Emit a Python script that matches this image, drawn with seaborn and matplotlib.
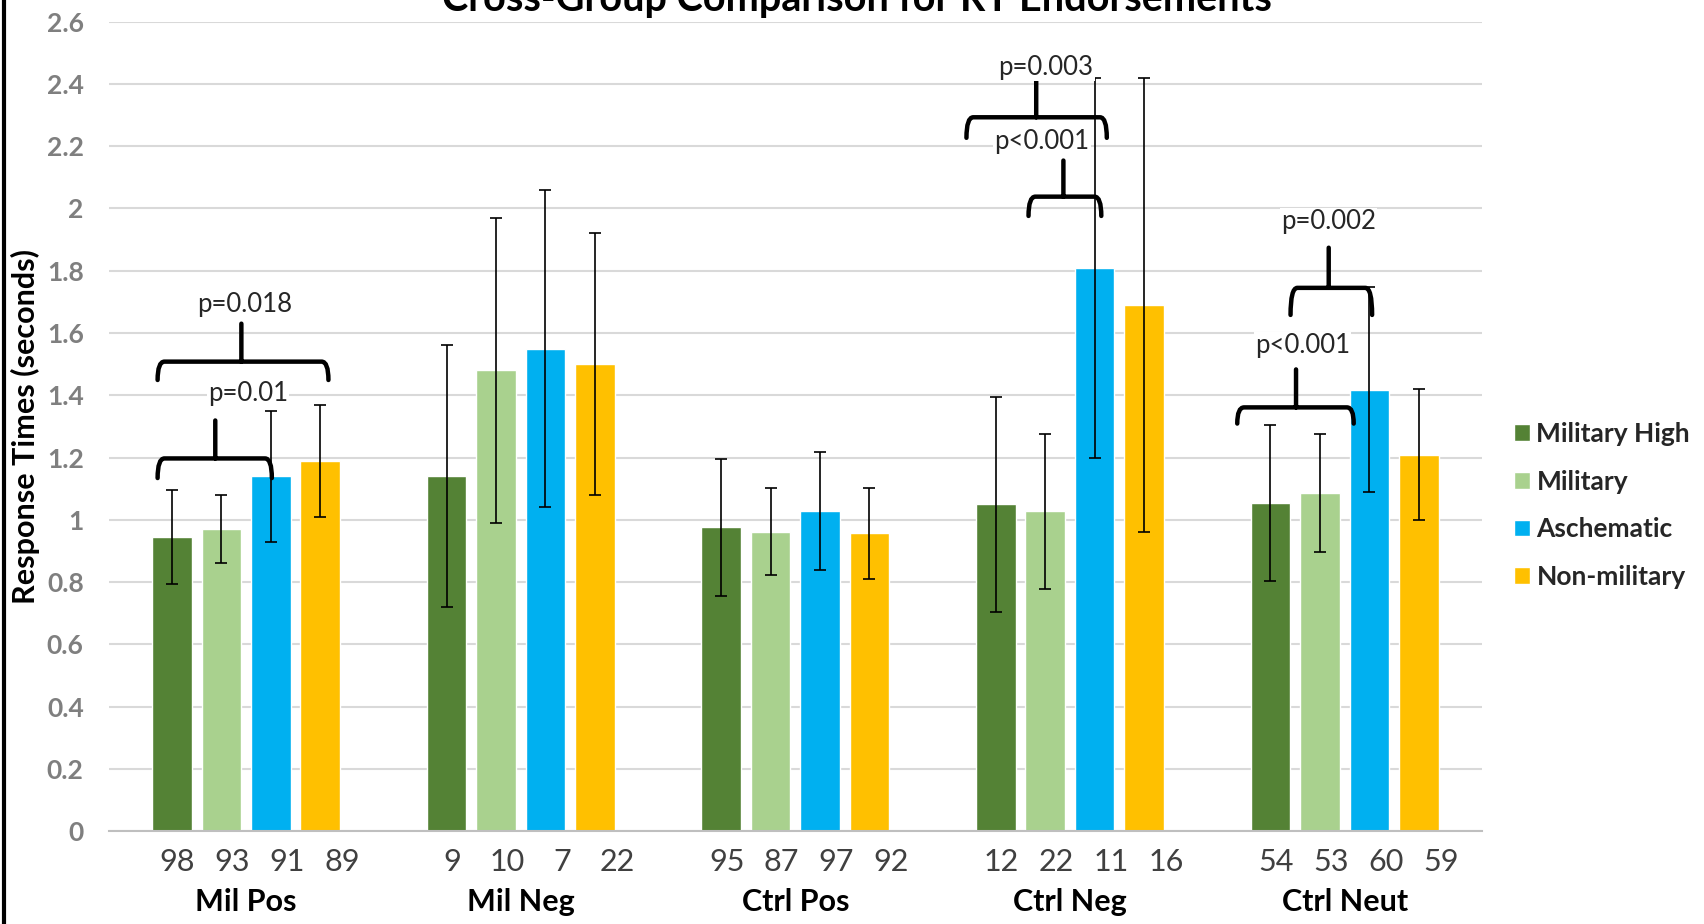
import numpy as np
import pandas as pd
import seaborn as sns
import matplotlib.pyplot as plt
from matplotlib.path import Path
from matplotlib.patches import PathPatch
from matplotlib.lines import Line2D


"""Data"""

Conditions = ["Mil Pos", "Mil Neg", "Ctrl Pos", "Ctrl Neg", "Ctrl Neut"]
Groups = ["Military High", "Military", "Aschematic", "Non-military"]

Mean_Military_High = [0.945, 1.14, 0.976, 1.05, 1.054]
Mean_Military = [0.97, 1.48, 0.961, 1.027, 1.087]
Mean_Aschematic = [1.14, 1.55, 1.028, 1.81, 1.418]
Mean_Non_Military = [1.19, 1.50, 0.956, 1.69, 1.209]

Err_Military_High = [0.15, 0.42, 0.22, 0.345, 0.25]
Err_Military = [0.11, 0.49, 0.14, 0.25, 0.19]
Err_Aschematic = [0.21, 0.51, 0.19, 0.61, 0.33]
Err_Non_Military = [0.18, 0.42, 0.145, 0.73, 0.21]

N_Military_High = [98, 9, 95, 12, 54]
N_Military = [93, 10, 87, 22, 53]
N_Aschematic = [91, 7, 97, 11, 60]
N_Non_Military = [89, 22, 92, 16, 59]

Colors = ["#548235", "#A9D18E", "#00B0F0", "#FFC000"]

# significance braces: condition, left, right, stem (offsets from condition centre), line y, end y, stem top
Brace_Condition = [0, 0, 3, 3, 4, 4]
Brace_Left = [-0.322, -0.322, -0.377, -0.151, -0.197, -0.391]
Brace_Right = [0.30, 0.094, 0.134, 0.114, 0.10, 0.033]
Brace_Stem = [-0.017, -0.112, -0.123, -0.024, -0.058, -0.177]
Brace_Y = [1.508, 1.197, 2.293, 2.038, 1.745, 1.361]
Brace_End = [1.449, 1.134, 2.227, 1.976, 1.658, 1.309]
Brace_Top = [1.63, 1.319, 2.412, 2.154, 1.874, 1.483]
Brace_Label = ["p=0.018", "p=0.01", "p=0.003", "p<0.001", "p=0.002", "p<0.001"]
Label_X = [-0.005, 0.007, -0.087, -0.103, -0.058, -0.153]
Label_Y = [1.69, 1.407, 2.454, 2.216, 1.958, 1.56]


def Draw_Brace(ax, x0, x1, xs, y, y_end, y_top):
    dx = 0.025
    Verts = [(x0, y_end), (x0, y), (x0 + dx, y), (x1 - dx, y), (x1, y), (x1, y_end),
             (xs, y), (xs, y_top)]
    Codes = [Path.MOVETO, Path.CURVE3, Path.CURVE3, Path.LINETO, Path.CURVE3, Path.CURVE3,
             Path.MOVETO, Path.LINETO]
    ax.add_patch(PathPatch(Path(Verts, Codes), facecolor="none", edgecolor="black",
                           lw=3.2, capstyle="round", zorder=5))


"""Build data frame"""
Means = [Mean_Military_High, Mean_Military, Mean_Aschematic, Mean_Non_Military]
Errs = [Err_Military_High, Err_Military, Err_Aschematic, Err_Non_Military]
Counts = [N_Military_High, N_Military, N_Aschematic, N_Non_Military]

Rows = []
for g, Group in enumerate(Groups):
    for c, Condition in enumerate(Conditions):
        Rows.append({"condition": Condition, "group": Group, "rt": Means[g][c]})
Data = pd.DataFrame(Rows)

"""Plot"""
sns.set_style("white")
plt.rcParams["font.family"] = ["Lato", "DejaVu Sans"]

fig = plt.figure(figsize=(17.04, 9.24), dpi=100)
ax = fig.add_axes([0.0638, 0.1006, 0.8059, 0.8759])

sns.barplot(data=Data, x="condition", y="rt", hue="group", order=Conditions,
            hue_order=Groups, palette=Colors, width=0.72, gap=0.2,
            errorbar=None, saturation=1, ax=ax, zorder=2)

Bar_Containers = list(ax.containers)
for g, Container in enumerate(Bar_Containers):
    Xs = [p.get_x() + p.get_width() / 2 for p in Container.patches]
    Ys = [p.get_height() for p in Container.patches]
    ax.errorbar(Xs, Ys, yerr=Errs[g], fmt="none", ecolor="black", elinewidth=1.2,
                capsize=4, capthick=1.2, zorder=4)
    for c, x in enumerate(Xs):
        ax.annotate(str(Counts[g][c]), xy=(c + (g - 1.5) * 0.2 + 0.05, 0),
                    xycoords=("data", "axes fraction"), xytext=(0, -22.5),
                    textcoords="offset points", ha="center", va="center",
                    fontsize=22, color="#404040")

for c, Condition in enumerate(Conditions):
    ax.annotate(Condition, xy=(c, 0), xycoords=("data", "axes fraction"),
                xytext=(0, -51), textcoords="offset points", ha="center", va="center",
                fontsize=22, fontweight="bold", color="black")

for i in range(len(Brace_Label)):
    c = Brace_Condition[i]
    Draw_Brace(ax, c + Brace_Left[i], c + Brace_Right[i], c + Brace_Stem[i],
               Brace_Y[i], Brace_End[i], Brace_Top[i])
    ax.text(c + Label_X[i], Label_Y[i], Brace_Label[i], ha="center", va="center",
            fontsize=18.5, color="#262626", zorder=6,
            bbox=dict(facecolor="white", edgecolor="none", pad=1))

ax.set_ylim(0, 2.6)
ax.set_xlim(-0.5, 4.5)
Y_Ticks = np.arange(0, 2.61, 0.2)
ax.set_yticks(Y_Ticks)
ax.set_yticklabels(["%g" % round(t, 1) for t in Y_Ticks], fontsize=19,
                   fontweight="bold", color="#7F7F7F")
ax.tick_params(axis="y", length=0, pad=18)
ax.yaxis.grid(True, color="#D9D9D9", lw=1.5, zorder=0)
ax.set_axisbelow(True)

ax.set_xticks(range(len(Conditions)))
ax.set_xticklabels([])
ax.set_xticks(np.arange(-0.5, 4.6, 1), minor=True)
ax.tick_params(axis="x", which="major", length=0)
ax.tick_params(axis="x", which="minor", length=8, width=1.5, color="#BFBFBF", direction="out")

for s in ["top", "right", "left"]:
    ax.spines[s].set_visible(False)
ax.spines["bottom"].set_color("#BFBFBF")
ax.spines["bottom"].set_linewidth(1.5)

ax.set_xlabel("")
ax.set_ylabel("Response Times (seconds)", fontsize=22, fontweight="bold", color="black")
ax.yaxis.set_label_coords(-0.050, 0.5)

Handles, Labels = ax.get_legend_handles_labels()
ax.legend(Handles, Labels, loc="center left", bbox_to_anchor=(1514 / 1704, 0.453),
          bbox_transform=fig.transFigure, frameon=False, borderpad=0, borderaxespad=0,
          handlelength=0.6, handleheight=0.6, handletextpad=0.25, labelspacing=0.9,
          prop={"size": 19, "weight": "bold"})

fig.text(0.503, 1 - 11 / 924, "Cross-Group Comparison for RT Endorsements",
         ha="center", va="baseline", fontsize=28.5, fontweight="bold", color="black")

fig.add_artist(Line2D([0.0025, 0.0025], [0, 1], transform=fig.transFigure, color="black", lw=3))

fig.savefig("out.png", dpi=100)
